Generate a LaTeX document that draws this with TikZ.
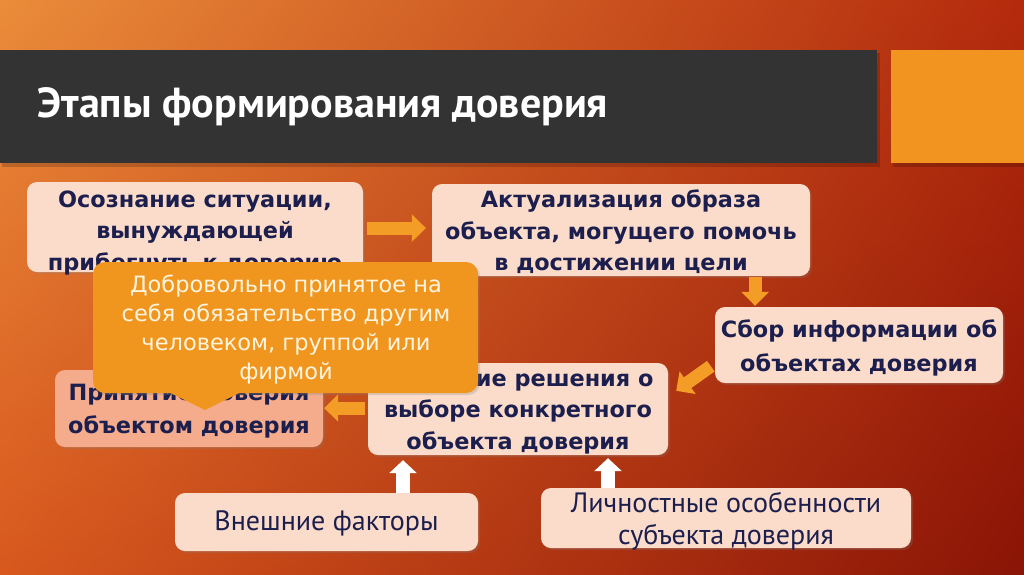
\documentclass[tikz,border=0pt]{standalone}
\usepackage{fontspec}
\newfontfamily\boxfont{DejaVu Sans}
\newfontfamily\ptfont{PT Sans}
\usetikzlibrary{arrows.meta,calc,shadings,shadows}
\definecolor{bgUL}{HTML}{EA8C3A}
\definecolor{bgUR}{HTML}{B42A0C}
\definecolor{bgLL}{HTML}{D8581E}
\definecolor{bgLR}{HTML}{8A1406}
\definecolor{titlebar}{HTML}{333333}
\definecolor{accent}{HTML}{F29420}
\definecolor{peach}{HTML}{FBDCCA}
\definecolor{salmon}{HTML}{F4AC8D}
\definecolor{navy}{HTML}{1C1F4E}
\definecolor{orangearrow}{HTML}{F39C26}
\definecolor{calloutfill}{HTML}{F0961E}
\definecolor{callouttext}{HTML}{FFF4DE}
\begin{document}
\begin{tikzpicture}[x=1pt,y=-1pt,
  softshadow/.style={drop shadow={opacity=0.25, shadow xshift=2pt, shadow yshift=-2pt}},
  box/.style={draw=none, fill=peach, rounded corners=10pt, inner sep=0pt, softshadow},
  boldtxt/.style={text=navy, align=center, inner sep=0pt, font=\boxfont\bfseries\fontsize{22.4}{31.5}\selectfont},
  boldtxttwo/.style={boldtxt, font=\boxfont\bfseries\fontsize{22.4}{33.5}\selectfont},
  lighttxt/.style={text=navy, align=center, inner sep=0pt, font=\ptfont\fontsize{28}{32}\selectfont},
  oarrow/.style={draw=orangearrow, line width=13pt, -{Triangle[length=14pt,width=27pt]}},
  warrow/.style={draw=white, line width=14pt, -{Triangle[length=13pt,width=27pt]}}
]
\useasboundingbox (0,0) rectangle (1024,574);
\shade[upper left=bgUL, upper right=bgUR, lower left=bgLL, lower right=bgLR] (0,0) rectangle (1024,574);
% title bar
\fill[black, opacity=0.18] (2,53) rectangle (880,167);
\fill[titlebar] (0,50) rectangle (877,163);
\fill[black, opacity=0.18] (893,53) rectangle (1024,167);
\fill[accent] (891,50) rectangle (1024,163);
\node[anchor=base west, text=white, inner sep=0pt, font=\ptfont\bfseries\fontsize{42}{48}\selectfont] (title) at (37,117) {Этапы формирования доверия};
% boxes
\node[box, minimum width=336pt, minimum height=90pt] (box1) at (195,227) {};
\node[boldtxt] (t1) at (195,233) {Осознание ситуации,\\вынуждающей\\прибегнуть к доверию};
\node[box, minimum width=378pt, minimum height=92pt] (box2) at (621,230) {};
\node[boldtxt] (t2) at (621,232) {Актуализация образа\\объекта, могущего помочь\\в достижении цели};
\node[box, minimum width=288pt, minimum height=76pt] (box3) at (859,345) {};
\node[boldtxttwo] (t3) at (859,348) {Сбор информации об\\объектах доверия};
\node[box, minimum width=300pt, minimum height=92pt] (box4) at (518,409) {};
\node[boldtxt] (t4) at (518,412) {Принятие решения о\\выборе конкретного\\объекта доверия};
\node[box, fill=salmon, minimum width=268pt, minimum height=77pt] (box5) at (189,408.5) {};
\node[boldtxttwo] (t5) at (189,411) {Принятие доверия\\объектом доверия};
\node[box, minimum width=303pt, minimum height=58pt] (box6) at (326.5,522) {};
\node[lighttxt] (t6) at (326.5,523) {Внешние факторы};
\node[box, minimum width=370pt, minimum height=60pt] (box7) at (726,518) {};
\node[lighttxt] (t7) at (726,521) {Личностные особенности\\субъекта доверия};
% arrows
\draw[oarrow] ([shift={(4,1)}]box1.east) -- ([shift={(-6,-2)}]box2.west);
\draw[oarrow] ([shift={(134,1)}]box2.south) -- ([shift={(-104,-1)}]box3.north);
\coordinate (dstart) at ([shift={(-4,-17)}]box3.south west);
\coordinate (dend) at ([shift={(8,28)}]box4.north east);
\draw[oarrow] (dstart) -- (dend);
\draw[oarrow] ([shift={(-3,-1)}]box4.west) -- ([shift={(1,-0.5)}]box5.east);
\draw[warrow] ([shift={(76.5,0)}]box6.north) -- ([shift={(-115,5)}]box4.south);
\draw[warrow] ([shift={(-118,0)}]box7.north) -- ([shift={(90,3)}]box4.south);
% callout
\node[fill=calloutfill, rounded corners=12pt, minimum width=385pt, minimum height=131pt, inner sep=0pt, softshadow] (call) at (285.5,327.5) {};
\coordinate (tip) at (205,410);
\fill[calloutfill] ([shift={(74,-2)}]call.south west) -- (tip) -- ([shift={(150,-2)}]call.south west) -- cycle;
\node[text=callouttext, align=center, inner sep=0pt, font=\boxfont\fontsize{22.5}{29}\selectfont] (ct) at (286,330) {Добровольно принятое на\\себя обязательство другим\\человеком, группой или\\фирмой};
\end{tikzpicture}
\end{document}
